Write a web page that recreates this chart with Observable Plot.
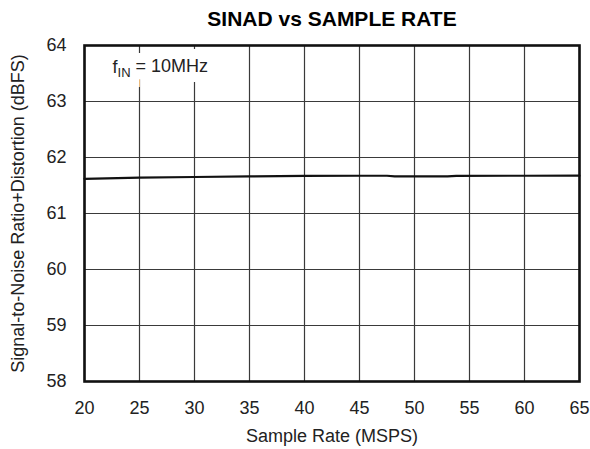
<!DOCTYPE html>
<html>
<head>
<meta charset="utf-8">
<script src="https://cdn.jsdelivr.net/npm/d3@7"></script>
<script src="https://cdn.jsdelivr.net/npm/@observablehq/plot@0.6"></script>
<style>
  html, body { margin: 0; padding: 0; background: #fff; }
  #chart { width: 590px; height: 449px; }
  svg { font-family: "Liberation Sans", Arial, sans-serif; }
</style>
</head>
<body>
<div id="chart"></div>
<script>
const title = "SINAD vs SAMPLE RATE";
const xLabel = "Sample Rate (MSPS)";
const yLabel = "Signal-to-Noise Ratio+Distortion (dBFS)";
const annotation = "fIN = 10MHz";

const sampleRate = [20, 25, 30, 35, 40, 45, 47.5, 48.2, 53, 53.8, 60, 65];
const sinad      = [61.62, 61.64, 61.652, 61.662, 61.672, 61.674, 61.674, 61.664, 61.664, 61.673, 61.674, 61.675];

const xTicks = [20, 25, 30, 35, 40, 45, 50, 55, 60, 65];
const yTicks = [58, 59, 60, 61, 62, 63, 64];

const data = sampleRate.map((x, i) => ({x, y: sinad[i]}));

const plot = Plot.plot({
  width: 590,
  height: 449,
  marginLeft: 84,
  marginRight: 11,
  marginTop: 45,
  marginBottom: 68,
  style: {fontFamily: '"Liberation Sans", Arial, sans-serif', fontSize: "18px", color: "#222", background: "#fff", overflow: "visible"},
  x: {domain: [20, 65], ticks: xTicks, label: null},
  y: {domain: [58, 64], ticks: yTicks, label: null},
  marks: [
    Plot.gridX(xTicks, {stroke: "#3a3a3a", strokeOpacity: 1, strokeWidth: 1.2}),
    Plot.gridY(yTicks, {stroke: "#3a3a3a", strokeOpacity: 1, strokeWidth: 1.2}),
    Plot.text([annotation], {frameAnchor: "top-left", dx: 28, dy: 22, textAnchor: "start", lineAnchor: "middle", fontSize: 18, fill: "#fff", stroke: "#fff", strokeWidth: 20, strokeLinejoin: "miter", className: "annot"}),
    Plot.text([annotation], {frameAnchor: "top-left", dx: 28, dy: 22, textAnchor: "start", lineAnchor: "middle", fontSize: 18, fill: "#222", className: "annot"}),
    Plot.axisX(xTicks, {tickSize: 0, tickPadding: 20, fontSize: 18, fill: "#222", label: null}),
    Plot.axisY(yTicks, {tickSize: 0, tickPadding: 18, fontSize: 18, fill: "#222", label: null, tickFormat: d => String(d)}),
    Plot.line(data, {x: "x", y: "y", stroke: "#111", strokeWidth: 2.2}),
    Plot.frame({stroke: "#111", strokeWidth: 2.6}),
    Plot.text([title], {frameAnchor: "top", dy: -26, lineAnchor: "middle", fontSize: 21, fontWeight: "bold", fill: "#000"}),
    Plot.text([xLabel], {frameAnchor: "bottom", dy: 55, textAnchor: "middle", lineAnchor: "middle", fontSize: 18, fill: "#222"}),
    Plot.text([yLabel], {frameAnchor: "left", dx: -66, textAnchor: "middle", lineAnchor: "middle", rotate: -90, fontSize: 18, fill: "#222"})
  ]
});

document.getElementById("chart").appendChild(plot);

// subscript for the annotation
d3.select(plot).selectAll("g.annot text").each(function() {
  const t = d3.select(this);
  t.text(null);
  t.append("tspan").text("f");
  t.append("tspan").attr("dy", "0.3em").attr("font-size", "13").text("IN");
  t.append("tspan").attr("dy", "-0.3em").text(" = 10MHz");
});
</script>
</body>
</html>
